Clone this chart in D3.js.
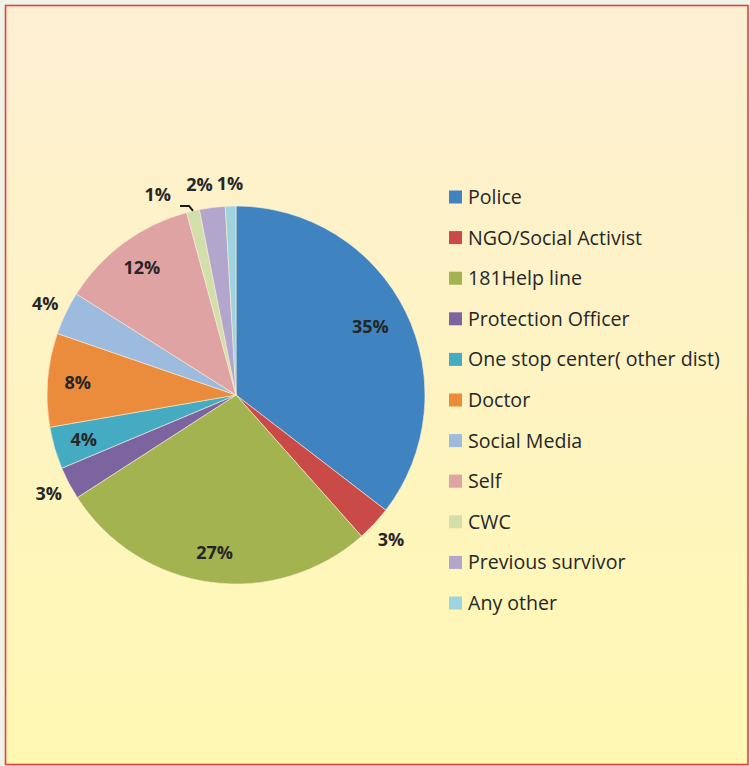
<!DOCTYPE html>
<html>
<head>
<meta charset="utf-8">
<script src="https://cdn.jsdelivr.net/npm/d3@7"></script>
<style>
  html, body { margin: 0; padding: 0; background: #eef5e8; }
  svg { display: block; }
</style>
</head>
<body>
<div id="root"></div>
<script>
const categories = [
  "Police", "NGO/Social Activist", "181Help line", "Protection Officer",
  "One stop center( other dist)", "Doctor", "Social Media", "Self",
  "CWC", "Previous survivor", "Any other",
];
const shares = [35.4, 3.0, 27.4, 2.8, 3.6, 8.0, 3.7, 11.8, 1.1, 2.2, 0.9];
const colors = [
  "#3f84c1", "#c94a47", "#a2b34f", "#7c64a0", "#45abc2", "#ea8c3b",
  "#9dbadf", "#e0a3a3", "#d3dfab", "#b3a6cd", "#9fd3df",
];
// which slices carry their label outside the pie
const outside = [false, true, false, true, false, false, true, false, true, true, true];

pieChart(window.d3);

function pieChart(d3) {
  const width = 750;
  const height = 766;
  const cx = 236;
  const cy = 395;
  const radius = 189;
  const font = "'Open Sans', Lato, sans-serif";

  const svg = d3.select("#root").append("svg")
    .attr("width", width)
    .attr("height", height);

  const grad = svg.append("defs").append("linearGradient")
    .attr("id", "bg")
    .attr("x1", 0).attr("y1", 0).attr("x2", 0).attr("y2", 1);
  grad.append("stop").attr("offset", "0%").attr("stop-color", "#fdefd2");
  grad.append("stop").attr("offset", "100%").attr("stop-color", "#fff8b2");

  svg.append("rect")
    .attr("x", 5.5).attr("y", 5.5)
    .attr("width", 742.5).attr("height", 759)
    .attr("fill", "url(#bg)")
    .attr("stroke", "#f23a3a")
    .attr("stroke-width", 1.6);

  const data = categories.map((name, i) => ({ name, value: shares[i], i }));
  const total = d3.sum(shares);
  const color = d3.scaleOrdinal(categories, colors);

  const pie = d3.pie().sort(null).value(d => d.value);
  const arcs = pie(data);
  const arc = d3.arc().innerRadius(0).outerRadius(radius);
  const inLabel = d3.arc().innerRadius(radius * 0.84).outerRadius(radius * 0.84);
  const outLabel = d3.arc().innerRadius(radius * 1.12).outerRadius(radius * 1.12);

  const chart = svg.append("g")
    .attr("transform", `translate(${cx}, ${cy})`);

  chart.selectAll("path")
    .data(arcs)
    .join("path")
    .attr("d", arc)
    .attr("fill", d => color(d.data.name))
    .attr("stroke", "#fbeed6")
    .attr("stroke-width", 0.6);

  const fmt = v => `${Math.round(v / total * 100)}%`;

  // small slices at the top get their labels nudged apart
  const shift = { 0: [-8, 2], 8: [-30, 6], 9: [-10, 0] };

  chart.selectAll("text.pct")
    .data(arcs)
    .join("text")
    .attr("class", "pct")
    .attr("transform", d => {
      const [x, y] = (outside[d.data.i] ? outLabel : inLabel).centroid(d);
      const s = shift[d.data.i] || [0, 0];
      return `translate(${x + s[0]}, ${y + s[1]})`;
    })
    .attr("text-anchor", "middle")
    .attr("dy", "0.36em")
    .attr("font-family", font)
    .attr("font-weight", "bold")
    .attr("font-size", 18)
    .attr("fill", "#262626")
    .text(d => fmt(d.data.value));

  const cwc = arcs[8];
  const mid = (cwc.startAngle + cwc.endAngle) / 2;
  const p0 = [Math.sin(mid) * radius, -Math.cos(mid) * radius];
  const p1 = [p0[0] - 4, p0[1] - 5];
  chart.append("polyline")
    .attr("points", [p0, p1, [p1[0] - 9, p1[1]]].map(p => p.join(",")).join(" "))
    .attr("fill", "none")
    .attr("stroke", "#1a1a1a")
    .attr("stroke-width", 2);

  const legend = svg.append("g")
    .attr("transform", "translate(449, 197)");

  const rows = legend.selectAll("g")
    .data(categories)
    .join("g")
    .attr("transform", (d, i) => `translate(0, ${i * 40.6})`);

  rows.append("rect")
    .attr("x", 0)
    .attr("y", -6.5)
    .attr("width", 13)
    .attr("height", 13)
    .attr("fill", d => color(d));

  rows.append("text")
    .attr("x", 19)
    .attr("dy", "0.36em")
    .attr("font-family", font)
    .attr("font-size", 19.6)
    .attr("fill", "#262626")
    .text(d => d);
}
</script>
</body>
</html>
